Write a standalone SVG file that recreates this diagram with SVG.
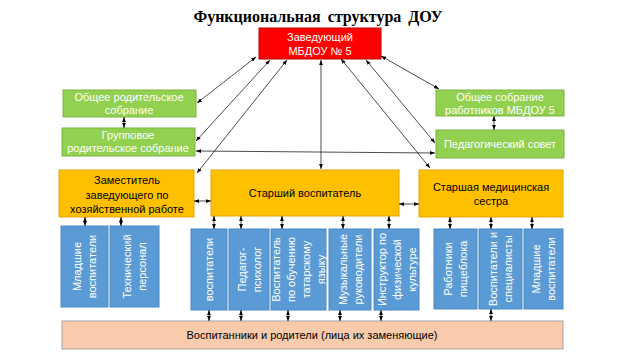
<svg xmlns="http://www.w3.org/2000/svg" width="640" height="360" viewBox="0 0 640 360">
<defs>
<marker id="ah" viewBox="0 0 8 6" refX="8" refY="3" markerWidth="5" markerHeight="4" markerUnits="userSpaceOnUse" orient="auto-start-reverse"><path d="M0,0 L8,3 L0,6 z" fill="#000"/></marker>
<style>
text{font-family:"Liberation Sans",Arial,sans-serif;font-size:11px;text-anchor:middle}
.title{font-family:"Liberation Serif","Times New Roman",serif;font-size:16px;font-weight:bold;fill:#000;word-spacing:3px}
.red{fill:#FF0000;stroke:#C00000;stroke-width:1}
.grn{fill:#92D050;stroke:#7CB543;stroke-width:1}
.org{fill:#FFC000;stroke:#E0A800;stroke-width:1}
.blu{fill:#5B9BD5;stroke:#4A88C4;stroke-width:1}
.pch{fill:#F8CBAD;stroke:#A5A5A5;stroke-width:1}
.w{fill:#fff}
.k{fill:#000}
#connectors line{stroke:#000;stroke-width:0.7;marker-start:url(#ah);marker-end:url(#ah)}
</style>
</defs>
<rect width="640" height="360" fill="#fff"/>
<text class="title" x="318" y="22">Функциональная структура ДОУ</text>

<g id="head">
<rect class="red" x="259" y="28" width="122" height="31"/>
<text class="w" x="320" y="41">Заведующий</text>
<text class="w" x="320" y="55">МБДОУ № 5</text>
</g>

<g id="parents-general">
<rect class="grn" x="63" y="90" width="133" height="27"/>
<text class="w" x="129" y="101">Общее родительское</text>
<text class="w" x="129" y="114">собрание</text>
</g>
<g id="parents-group">
<rect class="grn" x="62" y="128" width="133" height="28"/>
<text class="w" x="128" y="139">Групповое</text>
<text class="w" x="128" y="152">родительское собрание</text>
</g>
<g id="workers-general">
<rect class="grn" x="436" y="90" width="128" height="26"/>
<text class="w" x="500" y="101">Общее собрание</text>
<text class="w" x="500" y="114">работников МБДОУ 5</text>
</g>
<g id="ped-council">
<rect class="grn" x="436" y="130" width="128" height="28"/>
<text class="w" x="500" y="148">Педагогический совет</text>
</g>

<g id="deputy">
<rect class="org" x="59" y="170" width="135" height="47"/>
<text class="k" x="127" y="184">Заместитель</text>
<text class="k" x="127" y="199">заведующего по</text>
<text class="k" x="127" y="213">хозяйственной работе</text>
</g>
<g id="senior-teacher">
<rect class="org" x="211" y="170" width="188" height="46"/>
<text class="k" x="305" y="197">Старший воспитатель</text>
</g>
<g id="senior-nurse">
<rect class="org" x="419" y="170" width="144" height="47"/>
<text class="k" x="491" y="191">Старшая медицинская</text>
<text class="k" x="491" y="205">сестра</text>
</g>

<g id="b1">
<rect class="blu" x="61" y="226" width="47" height="81"/>
<text class="w" transform="translate(84.5,266.5) rotate(-90)"><tspan x="0" y="-3.5">Младшие</tspan><tspan x="0" y="11.5">воспитатели</tspan></text>
</g>
<g id="b2">
<rect class="blu" x="110" y="226" width="49" height="81"/>
<text class="w" transform="translate(134.5,266.5) rotate(-90)"><tspan x="0" y="-3.5">Технический</tspan><tspan x="0" y="11.5">персонал</tspan></text>
</g>
<g id="b3">
<rect class="blu" x="191" y="229" width="36" height="81"/>
<text class="w" transform="translate(209,269.5) rotate(-90)"><tspan x="0" y="4">воспитатели</tspan></text>
</g>
<g id="b4">
<rect class="blu" x="229" y="229" width="40" height="81"/>
<text class="w" transform="translate(249,269.5) rotate(-90)"><tspan x="0" y="-3.5">Педагог-</tspan><tspan x="0" y="11.5">психолог</tspan></text>
</g>
<g id="b5">
<rect class="blu" x="271" y="229" width="55" height="81"/>
<text class="w" transform="translate(298.5,269.5) rotate(-90)"><tspan x="0" y="-18.5">Воспитатель</tspan><tspan x="0" y="-3.5">по обучению</tspan><tspan x="0" y="11.5">татарскому</tspan><tspan x="0" y="26.5">языку</tspan></text>
</g>
<g id="b6">
<rect class="blu" x="329" y="229" width="42" height="81"/>
<text class="w" transform="translate(350,269.5) rotate(-90)"><tspan x="0" y="-3.5">Музыкальные</tspan><tspan x="0" y="11.5">руководители</tspan></text>
</g>
<g id="b7">
<rect class="blu" x="374" y="229" width="45" height="81"/>
<text class="w" transform="translate(397,269.5) rotate(-90)"><tspan x="0" y="-11">Инструктор по</tspan><tspan x="0" y="4">физической</tspan><tspan x="0" y="19">культуре</tspan></text>
</g>
<g id="b8">
<rect class="blu" x="434" y="229" width="43" height="80"/>
<text class="w" transform="translate(455.5,269) rotate(-90)"><tspan x="0" y="-3.5">Работники</tspan><tspan x="0" y="11.5">пищеблока</tspan></text>
</g>
<g id="b9">
<rect class="blu" x="479" y="229" width="43" height="80"/>
<text class="w" transform="translate(500.5,269) rotate(-90)"><tspan x="0" y="-3.5">Воспитатели и</tspan><tspan x="0" y="11.5">специалисты</tspan></text>
</g>
<g id="b10">
<rect class="blu" x="524" y="229" width="39" height="80"/>
<text class="w" transform="translate(543.5,269) rotate(-90)"><tspan x="0" y="-3.5">Младшие</tspan><tspan x="0" y="11.5">воспитатели</tspan></text>
</g>

<g id="pupils">
<rect class="pch" x="62" y="321" width="501" height="28"/>
<text class="k" x="312" y="339">Воспитанники и родители (лица их заменяющие)</text>
</g>

<g id="connectors">
<line x1="256" y1="57" x2="197" y2="103"/>
<line x1="270" y1="60" x2="196" y2="141"/>
<line x1="287" y1="60" x2="197" y2="173"/>
<line x1="321" y1="60" x2="321" y2="169"/>
<line x1="341" y1="59" x2="430" y2="168"/>
<line x1="366" y1="60" x2="435" y2="143"/>
<line x1="381" y1="56" x2="439" y2="89"/>
<line x1="196" y1="151" x2="435" y2="153"/>
<line x1="124" y1="117" x2="124" y2="128"/>
<line x1="494" y1="116" x2="494" y2="130"/>
<line x1="194" y1="201" x2="211" y2="201"/>
<line x1="399" y1="204" x2="419" y2="204"/>
<line x1="85" y1="217" x2="85" y2="226"/>
<line x1="121" y1="217" x2="121" y2="226"/>
<line x1="214" y1="216" x2="214" y2="229"/>
<line x1="241" y1="216" x2="241" y2="229"/>
<line x1="282" y1="216" x2="282" y2="229"/>
<line x1="343" y1="216" x2="343" y2="229"/>
<line x1="389" y1="216" x2="389" y2="229"/>
<line x1="450" y1="217" x2="450" y2="229"/>
<line x1="491" y1="217" x2="491" y2="229"/>
<line x1="532" y1="217" x2="532" y2="229"/>
<line x1="209" y1="310" x2="209" y2="321"/>
<line x1="241" y1="310" x2="241" y2="321"/>
<line x1="288" y1="310" x2="288" y2="321"/>
<line x1="340" y1="310" x2="340" y2="321"/>
<line x1="381" y1="310" x2="381" y2="321"/>
<line x1="491" y1="309" x2="491" y2="321"/>
</g>
</svg>
